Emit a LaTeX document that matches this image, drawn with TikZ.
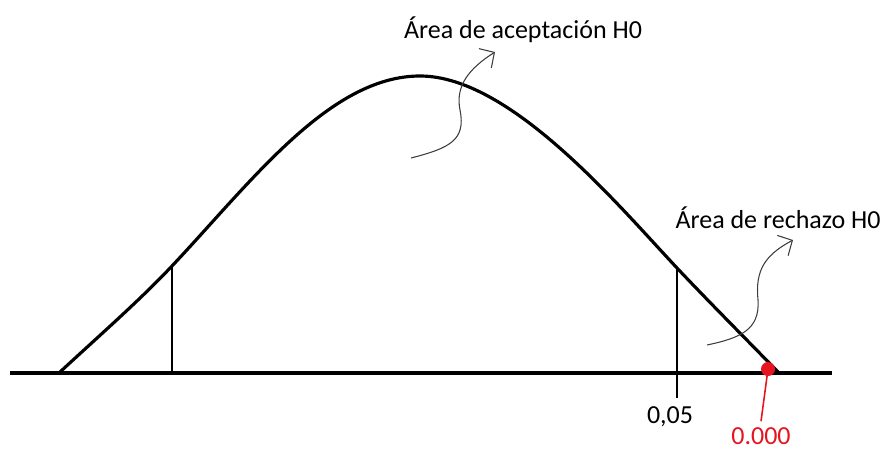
\documentclass[tikz,border=0pt]{standalone}
\usepackage{fontspec}
\setmainfont{Carlito}
\usepackage{xcolor}
\usepackage{tikz}
\usetikzlibrary{arrows.meta}
\definecolor{pvalred}{RGB}{230,20,30}
\definecolor{notegray}{RGB}{60,60,60}

\begin{document}
\begin{tikzpicture}[x=0.02cm, y=-0.02cm, every node/.style={font=\fontsize{14.8pt}{17pt}\selectfont},
    curveline/.style={line width=1.8pt, line cap=round, line join=round},
    tickline/.style={line width=0.9pt},
    noteline/.style={notegray, line width=0.6pt, -{Straight Barb[length=2.2mm, width=4.6mm]}}]
  \useasboundingbox (0,0) rectangle (884,450);
  % axis
  \draw[line width=1.8pt] (10,373) -- (832,373);
  % density curve
  \coordinate (lcrit) at (172,266);
  \coordinate (peak) at (420,76);
  \coordinate (rcrit) at (677,268);
  \draw[curveline] (60,372) .. controls (100,335) and (140,300) .. (lcrit)
      .. controls (252,181) and (330,76) .. (peak)
      .. controls (510,76) and (617,204) .. (rcrit)
      .. controls (710,303) and (750,343) .. (778,372);
  % critical lines
  \draw[tickline] (lcrit) -- (172,373);
  \draw[tickline] (rcrit) -- (677,398);
  % labels
  \node (acept) at (523,30) {Área de aceptación H0};
  \node (rech) at (778,218) {Área de rechazo H0};
  \node (alfa) at (670,417) {0,05};
  \node[text=pvalred] (pval) at (761,436) {0.000};
  \coordinate (pdot) at (768,369);
  \fill[pvalred] (pdot) circle (7);
  \draw[pvalred, line width=0.9pt] (pdot) -- (pval.north);
  % arrows
  \coordinate (a0) at (411,158);
  \coordinate (a1) at (495,52);
  \draw[noteline] (a0) .. controls (450,148) and (466,140) .. (460,110)
      .. controls (455,85) and (470,68) .. (a1);
  \coordinate (r0) at (707,345);
  \coordinate (r1) at (793,240);
  \draw[noteline] (r0) .. controls (740,338) and (760,330) .. (758,300)
      .. controls (755,270) and (765,255) .. (r1);
\end{tikzpicture}
\end{document}
